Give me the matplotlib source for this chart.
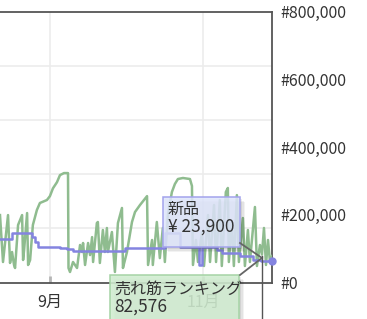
import numpy as np
import pandas as pd
import matplotlib
matplotlib.use('Agg')
import matplotlib.pyplot as plt
import matplotlib.dates as mdates
from matplotlib.patches import Rectangle
from matplotlib.lines import Line2D
from matplotlib.ticker import FuncFormatter

plt.rcParams['font.family'] = ['Noto Sans CJK JP', 'DejaVu Sans']

# ---------------- data ----------------
start_date = '2023-08-12'
x_end_day = 108.4

rank_days = [0.0, 1.2, 3.2, 4.0, 4.8, 5.6, 6.0, 7.2, 8.8, 9.2, 9.6, 10.8, 11.2, 12.0, 13.1,
             14.7, 15.9, 18.7, 19.9, 21.1, 22.7, 23.9, 25.5, 27.1, 27.3,
             27.9, 29.1, 30.7, 31.9, 32.7, 33.1, 33.9, 35.1, 35.9, 36.7, 37.1, 38.6, 39.0,
             39.8, 41.0, 41.8, 42.6, 43.0, 44.6, 45.8, 47.0, 48.6, 49.0, 49.8, 50.6, 52.6,
             53.8, 55.8, 58.6, 59.0, 60.6, 60.9, 62.5, 63.7, 64.9, 65.7, 66.9, 68.5, 69.7,
             70.9, 72.9, 75.7, 76.5, 76.9,
             78.1, 78.9, 80.5, 81.3, 82.9, 83.7, 85.3, 86.1, 87.6, 88.4, 90.0, 90.8, 91.2,
             92.4, 93.2, 94.4, 95.2, 96.8, 97.6, 98.8, 99.6, 101.6, 102.4, 103.6, 104.4,
             105.2, 106.0, 106.8, 107.6, 108.4]
rank_values = [199000, 60500, 199000, 57600, 90000, 51700, 42800, 169700, 199000, 66400, 95900,
               205000, 51700, 66400, 169700,
               214000, 234700, 243500, 255000, 278000, 296000, 317000, 323000, 323000, 42800,
               31000, 60500, 42800, 110700, 90000, 116600, 51700, 116600, 81000, 134000, 60500,
               175600, 178600,
               57600, 155000, 90000, 160900, 90000, 149000, 31000, 175600, 220000, 42800, 66400,
               90000, 178600,
               208000, 228800, 255000, 51700, 125500, 51700, 178600, 72000, 161000, 60500,
               199000, 267000, 290800,
               305500, 308500, 305500, 285000, 51700,
               125500, 60500, 149000, 48700, 199000, 60500, 228800, 60500, 243500, 48700,
               267000, 279000, 60500,
               178600, 48700, 258000, 60500, 190400, 48700, 155000, 60500, 222900, 48700,
               110700, 82576,
               161000, 51700, 125500, 60500, 78000]

price_days = [0.0, 4.8, 12.7, 13.9, 15.1, 24.0, 26.7, 29.1, 49.8, 65.7, 71.7, 79.3, 80.5,
              86.5, 88.4, 95.6, 100.8, 104.0, 108.4]
price_values = [48200, 54800, 50400, 44800, 39300, 38200, 37100, 34900, 38200, 54800, 39300,
                19400, 39300, 36000, 32700, 29300, 24900, 23900, 23900]

month_ticks = ['2023-09-01', '2023-11-01']
month_labels = ['9月', '11月']
rank_ticks = [0, 200000, 400000, 600000, 800000]
rank_max = 800000
price_max = 300000
price_grid_step = 60000

hover_day = 104.4
hover_price = 23900
hover_rank = 82576
price_title = '新品'
rank_title = '売れ筋ランキング'

# ---------------- figure ----------------
W, H = 367, 319
fig = plt.figure(figsize=(W / 100, H / 100), dpi=100)


def fx(px):
    return px / W


def fy(py):
    return 1 - py / H


base = pd.Timestamp(start_date)


def to_dt(d):
    return base + pd.to_timedelta(np.asarray(d, dtype=float), unit='D')


ax = fig.add_axes([0, fy(282.5), 272 / W, (282.5 - 11.5) / H])
axp = ax.twinx()

ax.set_xlim(base, base + pd.Timedelta(days=x_end_day))
ax.set_ylim(0, rank_max)

GREEN = '#8fbc8f'
BLUE = '#8484e0'
TXT = '#333333'
FS = 11.5

ax.plot(to_dt(rank_days), rank_values, color=GREEN, lw=1.8, solid_joinstyle='round', zorder=3)

# right axis labels (rank)
ax.yaxis.tick_right()
ax.yaxis.set_label_position('right')
ax.set_yticks(rank_ticks)
ax.yaxis.set_major_formatter(FuncFormatter(lambda v, p: '#{:,.0f}'.format(v)))
ax.tick_params(axis='y', which='major', left=False, right=True, labelleft=False,
               labelright=True, length=0, pad=6, labelsize=FS, labelcolor=TXT)

# horizontal grid follows the (hidden) price axis
grid_rank = [p * rank_max / price_max for p in range(0, price_max + 1, price_grid_step)]
ax.set_yticks(grid_rank, minor=True)
ax.tick_params(axis='y', which='minor', length=0, left=False, right=False)
ax.grid(axis='y', which='minor', color='#ececec', lw=1.2, zorder=0)
ax.grid(axis='y', which='major', visible=False)

ax.set_xticks(pd.to_datetime(month_ticks))
ax.set_xticklabels(month_labels)
ax.tick_params(axis='x', direction='in', length=5, width=2, color='#b5b5b5',
               labelsize=FS, labelcolor=TXT, pad=8)
ax.grid(axis='x', color='#ececec', lw=1.2, zorder=0)
ax.set_axisbelow(True)

for s in ['top', 'right', 'bottom']:
    ax.spines[s].set_color('#555555')
    ax.spines[s].set_linewidth(1.3)
ax.spines['left'].set_visible(False)

axp.set_ylim(0, price_max)
axp.set_xlim(ax.get_xlim())
axp.step(to_dt(price_days), price_values, where='post', color=BLUE, lw=1.8, zorder=3)
axp.plot(to_dt([price_days[-1]]), [price_values[-1]], 'o', color=BLUE, ms=5,
         clip_on=False, zorder=4)
axp.set_yticks([])
axp.tick_params(axis='y', left=False, right=False, labelleft=False, labelright=False)
for s in axp.spines.values():
    s.set_visible(False)

# ---------------- tooltip ----------------
fig.canvas.draw()
hx = mdates.date2num(to_dt([hover_day])[0])
px_disp = axp.transData.transform((hx, hover_price))
hpx, hpy = px_disp[0], H - px_disp[1]   # pixel coords from top


def shadow(x0, y0, x1, y1):
    for k, a in [(5, 0.05), (3.5, 0.06), (2, 0.07)]:
        fig.patches.append(Rectangle((fx(x0 + k), fy(y1 + k)), (x1 - x0) / W, (y1 - y0) / H,
                                     transform=fig.transFigure, fc='black', ec='none',
                                     alpha=a))


# blue box
bx0, by0, bx1, by1 = 163, 197, 240, 247
# green box
gx0, gy0, gx1, gy1 = 110, 275, 239, 330

shadow(bx0, by0, bx1, by1)
fig.patches.append(Rectangle((fx(bx0), fy(by1)), (bx1 - bx0) / W, (by1 - by0) / H,
                             transform=fig.transFigure, fc=(0.875, 0.9, 0.99, 0.86),
                             ec='#a3a3ec', lw=1.1))
shadow(gx0, gy0, gx1, gy1)
fig.patches.append(Rectangle((fx(gx0), fy(gy1)), (gx1 - gx0) / W, (gy1 - gy0) / H,
                             transform=fig.transFigure, fc=(0.82, 0.93, 0.82, 0.88),
                             ec='#a5d3a5', lw=1.1))

# connectors
fig.lines.append(Line2D([fx(bx1), fx(hpx)], [fy(by1 - 4), fy(hpy - 3)],
                        transform=fig.transFigure, color='#666666', lw=1.3))
fig.lines.append(Line2D([fx(gx1 + 1), fx(hpx)], [fy(gy0), fy(hpy - 3)],
                        transform=fig.transFigure, color='#666666', lw=1.3))
fig.lines.append(Line2D([fx(hpx), fx(hpx)], [fy(hpy - 5), 0],
                        transform=fig.transFigure, color='#555555', lw=1.0))

fig.text(fx(bx0 + 5), fy(209), price_title, fontsize=FS, color=TXT, va='center', ha='left')
fig.text(fx(bx0 + 5), fy(227), '¥ {:,}'.format(hover_price), fontsize=FS + 1, color=TXT,
         va='center', ha='left')
fig.text(fx(gx0 + 4), fy(289), rank_title, fontsize=FS, color=TXT, va='center', ha='left')
fig.text(fx(gx0 + 4), fy(307), '{:,}'.format(hover_rank), fontsize=FS + 1, color=TXT,
         va='center', ha='left')

fig.savefig('out.png', dpi=100)
